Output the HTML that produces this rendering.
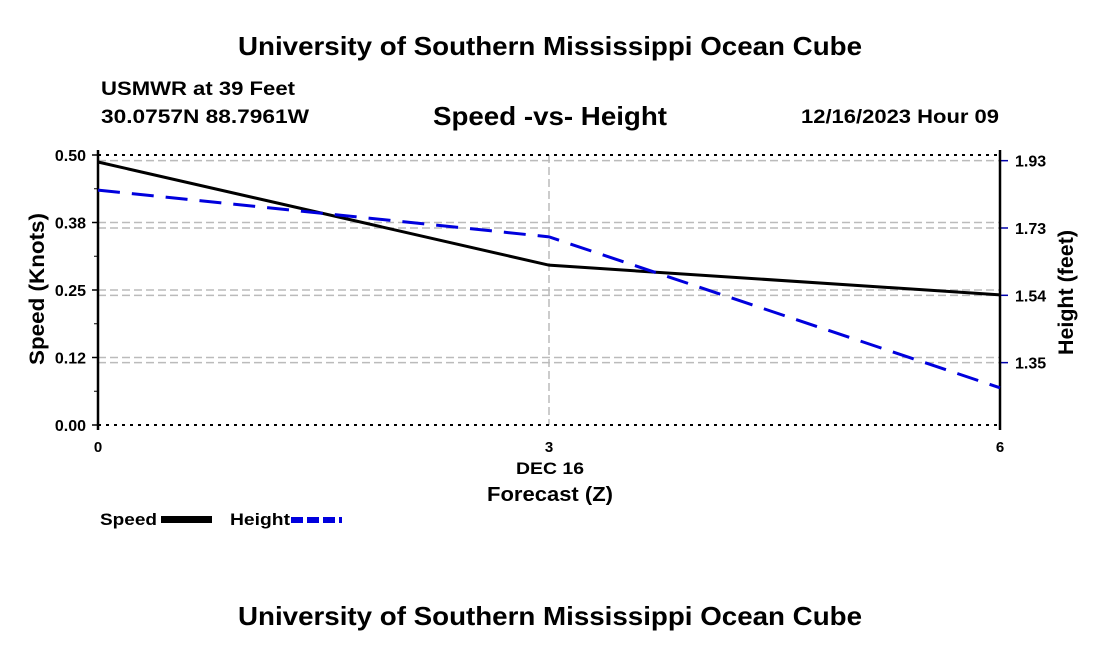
<!DOCTYPE html>
<html><head><meta charset="utf-8"><style>
body{margin:0;background:#fff;}
svg text{font-family:"Liberation Sans",sans-serif;font-weight:bold;fill:#000;}
</style></head><body>
<svg id="c" width="1100" height="650" xmlns="http://www.w3.org/2000/svg">
<text x="238" y="55" font-size="26" textLength="624" lengthAdjust="spacingAndGlyphs">University of Southern Mississippi Ocean Cube</text>
<text x="101" y="95" font-size="19" textLength="194" lengthAdjust="spacingAndGlyphs">USMWR at 39 Feet</text>
<text x="101" y="123" font-size="19" textLength="208" lengthAdjust="spacingAndGlyphs">30.0757N  88.7961W</text>
<text x="433" y="125" font-size="26" textLength="234" lengthAdjust="spacingAndGlyphs">Speed -vs- Height</text>
<text x="801" y="123" font-size="19" textLength="198" lengthAdjust="spacingAndGlyphs">12/16/2023 Hour 09</text>
<text x="238" y="625" font-size="26" textLength="624" lengthAdjust="spacingAndGlyphs">University of Southern Mississippi Ocean Cube</text>
<g id="grid"></g>
<g id="axes"></g>
<g id="series"></g>
<text x="516" y="474" font-size="17" textLength="68" lengthAdjust="spacingAndGlyphs">DEC 16</text>
<text x="487" y="501" font-size="20" textLength="126" lengthAdjust="spacingAndGlyphs">Forecast (Z)</text>
<text transform="translate(44,365) rotate(-90)" font-size="21" textLength="152" lengthAdjust="spacingAndGlyphs">Speed (Knots)</text>
<text transform="translate(1073,355) rotate(-90)" font-size="21" textLength="125" lengthAdjust="spacingAndGlyphs">Height (feet)</text>
<g>
<text x="100" y="525" font-size="17" textLength="57" lengthAdjust="spacingAndGlyphs">Speed</text>
<rect x="161" y="516" width="51" height="7" fill="#000"/>
<text x="230" y="525" font-size="17" textLength="60" lengthAdjust="spacingAndGlyphs">Height</text>
<line x1="291" y1="520" x2="342" y2="520" stroke="#0000dd" stroke-width="6" stroke-dasharray="12,4"/>
</g>
</svg>
<script>
const hours=[0,3,6];
const speed=[0.487,0.296,0.241];
const height=[1.842,1.710,1.284];
const leftTicks=[0,0.125,0.25,0.375,0.5];
const leftLabels=["0.00","0.12","0.25","0.38","0.50"];
const rightTicks=[1.355,1.545,1.735,1.925];
const rightLabels=["1.35","1.54","1.73","1.93"];
const xTicks=[0,3,6];
const NS="http://www.w3.org/2000/svg";
const X0=98,X1=1000,YT=155,YB=425;
const xs=v=>X0+(v-0)/(6-0)*(X1-X0);
const yl=v=>YB-(v-0)/(0.5-0)*(YB-YT);
const RMIN=1.179,RMAX=1.941;
const yr=v=>YB-(v-RMIN)/(RMAX-RMIN)*(YB-YT);
function mk(p,tag,a){const e=document.createElementNS(NS,tag);for(const k in a)e.setAttribute(k,a[k]);p.appendChild(e);return e;}
const grid=document.getElementById('grid'),axes=document.getElementById('axes'),ser=document.getElementById('series');
leftTicks.forEach((t,i)=>{
 const y=yl(t);
 if(i>0&&i<leftTicks.length-1){const g=mk(grid,'line',{x1:X0,x2:X1,y1:y,y2:y,stroke:'#bbb','stroke-width':1.5,'stroke-dasharray':'8,4'});
 
 }
 const tk=mk(axes,'line',{x1:X0-6,x2:X0,y1:y,y2:y,stroke:'#000','stroke-width':1.5});
 
 
 const tx=mk(axes,'text',{x:X0-12,y:y+6,'font-size':16,'text-anchor':'end'});tx.textContent=leftLabels[i];
 
 
 if(i<leftTicks.length-1){const ym=yl(t+0.0625);const m=mk(axes,'line',{x1:X0-4,x2:X0,y1:ym,y2:ym,stroke:'#000','stroke-width':1});
 
 }
});
rightTicks.forEach((t,i)=>{
 const y=yr(t);
 const g=mk(grid,'line',{x1:X0,x2:X1,y1:y,y2:y,stroke:'#bbb','stroke-width':1.5,'stroke-dasharray':'8,4'});
 
 
 const tk=mk(axes,'line',{x1:X1,x2:X1+8,y1:y,y2:y,stroke:'#0000aa','stroke-width':1.5});
 
 
 const tx=mk(axes,'text',{x:X1+15,y:y+6,'font-size':16});tx.textContent=rightLabels[i];
 
 
});
const vg=mk(grid,'line',{x1:xs(3),x2:xs(3),y1:YT,y2:YB,stroke:'#bbb','stroke-width':1.5,'stroke-dasharray':'8,4'});


[YT,YB].forEach(y=>{const b=mk(axes,'line',{x1:X0,x2:X1,y1:y,y2:y,stroke:'#000','stroke-width':2,'stroke-dasharray':'3,5'});
 
 });
[X0,X1].forEach(x=>{const b=mk(axes,'line',{x1:x,x2:x,y1:YT-5,y2:YB+5,stroke:'#000','stroke-width':2.5});
 
 });
xTicks.forEach(t=>{const tx=mk(axes,'text',{x:xs(t),y:YB+27,'font-size':15,'text-anchor':'middle'});tx.textContent=String(t);
 
 });
const sp=mk(ser,'polyline',{points:hours.map((h,i)=>xs(h)+','+yl(speed[i])).join(' '),fill:'none',stroke:'#000','stroke-width':3});


const hl=mk(ser,'polyline',{points:hours.map((h,i)=>xs(h)+','+yr(height[i])).join(' '),fill:'none',stroke:'#0000dd','stroke-width':3,'stroke-dasharray':'22,12'});


</script>
</body></html>
